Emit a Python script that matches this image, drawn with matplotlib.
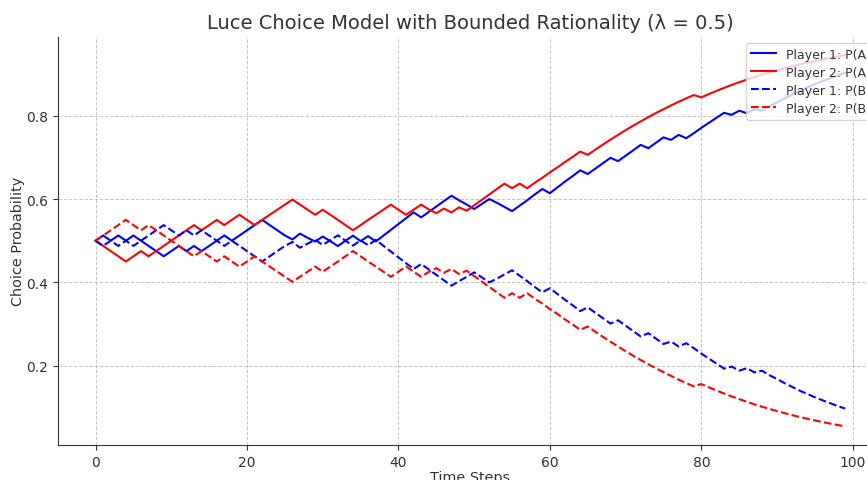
import matplotlib
matplotlib.use("Agg")
import matplotlib.pyplot as plt

steps = list(range(100))

p1_a = [0.500, 0.5125, 0.500, 0.5125, 0.500, 0.5125, 0.500, 0.4875, 0.475, 0.4626,
        0.475, 0.4875, 0.475, 0.4875, 0.475, 0.4875, 0.500, 0.5125, 0.500, 0.5125,
        0.525, 0.5374, 0.550, 0.5374, 0.525, 0.5125, 0.503, 0.517, 0.507, 0.498,
        0.510, 0.499, 0.487, 0.500, 0.512, 0.499, 0.511, 0.498, 0.512, 0.526,
        0.540, 0.554, 0.568, 0.556, 0.569, 0.582, 0.595, 0.608, 0.597, 0.587,
        0.576, 0.588, 0.600, 0.591, 0.581, 0.571, 0.584, 0.597, 0.611, 0.624,
        0.614, 0.628, 0.642, 0.655, 0.669, 0.660, 0.673, 0.686, 0.699, 0.691,
        0.704, 0.717, 0.730, 0.722, 0.735, 0.748, 0.742, 0.754, 0.746, 0.758,
        0.771, 0.783, 0.795, 0.807, 0.802, 0.812, 0.806, 0.816, 0.812, 0.823,
        0.832, 0.842, 0.851, 0.860, 0.868, 0.876, 0.883, 0.890, 0.897, 0.903]

p2_a = [0.500, 0.4875, 0.475, 0.4626, 0.450, 0.4626, 0.475, 0.4626, 0.475, 0.4875,
        0.500, 0.5125, 0.525, 0.5374, 0.525, 0.5374, 0.550, 0.5374, 0.550, 0.5622,
        0.550, 0.5374, 0.550, 0.5622, 0.5744, 0.5866, 0.5987, 0.5866, 0.5744, 0.5622,
        0.5744, 0.5622, 0.550, 0.5374, 0.525, 0.5374, 0.550, 0.5622, 0.5744, 0.5866,
        0.5744, 0.5622, 0.5744, 0.5866, 0.575, 0.566, 0.577, 0.568, 0.580, 0.572,
        0.585, 0.598, 0.611, 0.624, 0.637, 0.626, 0.637, 0.626, 0.639, 0.651,
        0.664, 0.676, 0.689, 0.701, 0.714, 0.706, 0.7185, 0.7307, 0.7425, 0.754,
        0.7653, 0.7761, 0.7865, 0.7966, 0.8063, 0.8156, 0.8246, 0.8334, 0.8417, 0.8496,
        0.8441, 0.852, 0.8596, 0.8668, 0.8738, 0.8803, 0.8866, 0.8927, 0.8985, 0.9038,
        0.9091, 0.914, 0.9188, 0.9232, 0.9274, 0.9315, 0.9353, 0.939, 0.9424, 0.9456]

p1_b = [0.500, 0.4875, 0.500, 0.4875, 0.500, 0.4875, 0.500, 0.5125, 0.525, 0.5374,
        0.525, 0.5125, 0.525, 0.5125, 0.525, 0.5125, 0.500, 0.4875, 0.500, 0.4875,
        0.475, 0.4626, 0.450, 0.4626, 0.475, 0.4875, 0.497, 0.483, 0.493, 0.502,
        0.490, 0.501, 0.513, 0.500, 0.488, 0.501, 0.489, 0.502, 0.488, 0.474,
        0.460, 0.446, 0.432, 0.444, 0.431, 0.418, 0.405, 0.392, 0.403, 0.413,
        0.424, 0.412, 0.400, 0.409, 0.419, 0.429, 0.416, 0.403, 0.389, 0.376,
        0.386, 0.372, 0.358, 0.345, 0.331, 0.340, 0.327, 0.314, 0.301, 0.309,
        0.296, 0.283, 0.270, 0.278, 0.265, 0.252, 0.258, 0.246, 0.254, 0.242,
        0.229, 0.217, 0.205, 0.193, 0.198, 0.188, 0.194, 0.184, 0.188, 0.177,
        0.168, 0.158, 0.149, 0.140, 0.132, 0.124, 0.117, 0.110, 0.103, 0.097]

p2_b = [0.500, 0.5125, 0.525, 0.5374, 0.550, 0.5374, 0.525, 0.5374, 0.525, 0.5125,
        0.500, 0.4875, 0.475, 0.4626, 0.475, 0.4626, 0.450, 0.4626, 0.450, 0.4378,
        0.450, 0.4626, 0.450, 0.4378, 0.4256, 0.4134, 0.4013, 0.4134, 0.4256, 0.4378,
        0.4256, 0.4378, 0.450, 0.4626, 0.475, 0.4626, 0.450, 0.4378, 0.4256, 0.4134,
        0.4256, 0.4378, 0.4256, 0.4134, 0.425, 0.434, 0.423, 0.432, 0.420, 0.428,
        0.415, 0.402, 0.389, 0.376, 0.363, 0.374, 0.363, 0.374, 0.361, 0.349,
        0.336, 0.324, 0.311, 0.299, 0.286, 0.294, 0.2815, 0.2693, 0.2575, 0.246,
        0.2347, 0.2239, 0.2135, 0.2034, 0.1937, 0.1844, 0.1754, 0.1666, 0.1583, 0.1504,
        0.1559, 0.148, 0.1404, 0.1332, 0.1262, 0.1197, 0.1134, 0.1073, 0.1015, 0.0962,
        0.0909, 0.086, 0.0812, 0.0768, 0.0726, 0.0685, 0.0647, 0.061, 0.0576, 0.0544]

labels = ["Player 1: P(A)", "Player 2: P(A)", "Player 1: P(B)", "Player 2: P(B)"]
title = "Luce Choice Model with Bounded Rationality (\u03bb = 0.5)"

TXT = "#333333"
plt.rcParams["font.family"] = ["DejaVu Sans"]
plt.rcParams["text.color"] = TXT
plt.rcParams["axes.labelcolor"] = TXT
plt.rcParams["xtick.color"] = TXT
plt.rcParams["ytick.color"] = TXT

fig = plt.figure(figsize=(8.67, 4.81), dpi=100)
ax = fig.add_axes([58.1 / 867, 35.1 / 481, 824.6 / 867, 408.4 / 481])

lw = 1.5
ax.plot(steps, p1_a, color="blue", linestyle="-", linewidth=lw, label=labels[0])
ax.plot(steps, p2_a, color="red", linestyle="-", linewidth=lw, label=labels[1])
ax.plot(steps, p1_b, color="blue", linestyle="--", linewidth=lw, label=labels[2])
ax.plot(steps, p2_b, color="red", linestyle="--", linewidth=lw, label=labels[3])

ax.set_title(title, fontsize=14, color=TXT, pad=6)
ax.set_xlabel("Time Steps", fontsize=10.4, labelpad=1)
ax.set_ylabel("Choice Probability", fontsize=10.4, labelpad=1)
ax.tick_params(labelsize=10, colors=TXT)
ax.set_xticks([0, 20, 40, 60, 80, 100])
ax.set_yticks([0.2, 0.4, 0.6, 0.8])

ax.grid(True, linestyle="--", linewidth=0.7, color="#b0b0b0", alpha=0.7)
ax.spines["top"].set_visible(False)
ax.spines["right"].set_visible(False)
ax.spines["left"].set_color(TXT)
ax.spines["bottom"].set_color(TXT)

ax.legend(loc="upper right", fontsize=9, labelspacing=0.4)

fig.savefig("out.png", dpi=100)
